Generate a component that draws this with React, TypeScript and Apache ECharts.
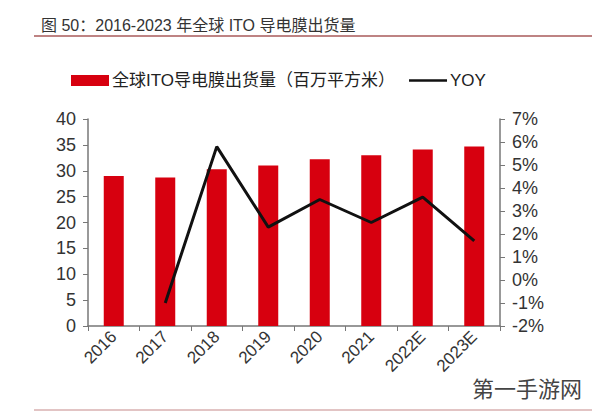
import React, { useEffect, useRef } from "react";
import * as echarts from "echarts";

const categories = ["2016", "2017", "2018", "2019", "2020", "2021", "2022E", "2023E"];
const shipments = [29.0, 28.7, 30.3, 31.0, 32.2, 33.0, 34.1, 34.7];
const yoy = [null, -1.0, 5.8, 2.3, 3.5, 2.5, 3.6, 1.7];
const leftTicks = { min: 0, max: 40, interval: 5 };
const rightTicks = { min: -2, max: 7, interval: 1 };

const FONT = "Liberation Sans, Noto Sans CJK SC, sans-serif";

export default function App() {
  const ref = useRef<HTMLDivElement>(null);
  useEffect(() => {
    if (!ref.current) return;
    const chart = echarts.init(ref.current, undefined, { renderer: "svg" });
    chart.setOption({
      animation: false,
      backgroundColor: "#ffffff",
      textStyle: { fontFamily: FONT },
      title: {
        text: "图 50：2016-2023 年全球 ITO 导电膜出货量",
        left: 36,
        top: 12,
        textStyle: { fontSize: 16, fontWeight: "normal", color: "#333", fontFamily: FONT },
      },
      graphic: [
        { type: "line", shape: { x1: 34, y1: 36, x2: 592, y2: 36 }, style: { stroke: "#a85a5a", lineWidth: 1.5 } },
        { type: "line", shape: { x1: 34, y1: 410, x2: 592, y2: 410 }, style: { stroke: "#d9b0b0", lineWidth: 1.5 } },
        {
          type: "text",
          x: 472,
          y: 376,
          style: { text: "第一手游网", fontSize: 22, fill: "#444", fontFamily: "Noto Sans CJK SC, sans-serif" },
        },
      ],
      legend: {
        top: 67,
        left: 66,
        itemGap: 14,
        itemWidth: 38,
        itemHeight: 11,
        textStyle: { fontSize: 17, color: "#222", fontFamily: FONT, padding: [0, 0, 0, -2] },
        data: [
          { name: "全球ITO导电膜出货量（百万平方米）", icon: "rect" },
          { name: "YOY", icon: "path://M0,0 L42,0 L42,3 L0,3 Z" },
        ],
      },
      grid: { left: 88, right: 100, top: 119, bottom: 89 },
      xAxis: {
        type: "category",
        data: categories,
        axisLine: { lineStyle: { color: "#777", width: 1.5 } },
        axisTick: { show: true, alignWithLabel: false, length: 5, lineStyle: { color: "#777" } },
        axisLabel: { rotate: 45, fontSize: 17, color: "#333", margin: 8, interval: 0 },
      },
      yAxis: [
        {
          type: "value",
          ...leftTicks,
          splitLine: { show: false },
          axisLine: { show: true, lineStyle: { color: "#777", width: 1.5 } },
          axisTick: { show: true, length: 5, lineStyle: { color: "#777" } },
          axisLabel: { fontSize: 18, color: "#333", margin: 12 },
        },
        {
          type: "value",
          ...rightTicks,
          position: "right",
          splitLine: { show: false },
          axisLine: { show: true, lineStyle: { color: "#777", width: 1.5 } },
          axisTick: { show: true, length: 5, lineStyle: { color: "#777" } },
          axisLabel: { fontSize: 18, color: "#333", margin: 12, formatter: (v: number) => `${v}%` },
        },
      ],
      series: [
        {
          name: "全球ITO导电膜出货量（百万平方米）",
          type: "bar",
          data: shipments,
          barWidth: 20,
          itemStyle: { color: "#d7000f" },
        },
        {
          name: "YOY",
          type: "line",
          yAxisIndex: 1,
          data: yoy,
          showSymbol: false,
          symbol: "none",
          lineStyle: { color: "#111", width: 3 },
          itemStyle: { color: "#111" },
        },
      ],
    });
    return () => chart.dispose();
  }, []);
  return <div ref={ref} style={{ width: 600, height: 415, position: "absolute", left: 0, top: 0 }} />;
}
